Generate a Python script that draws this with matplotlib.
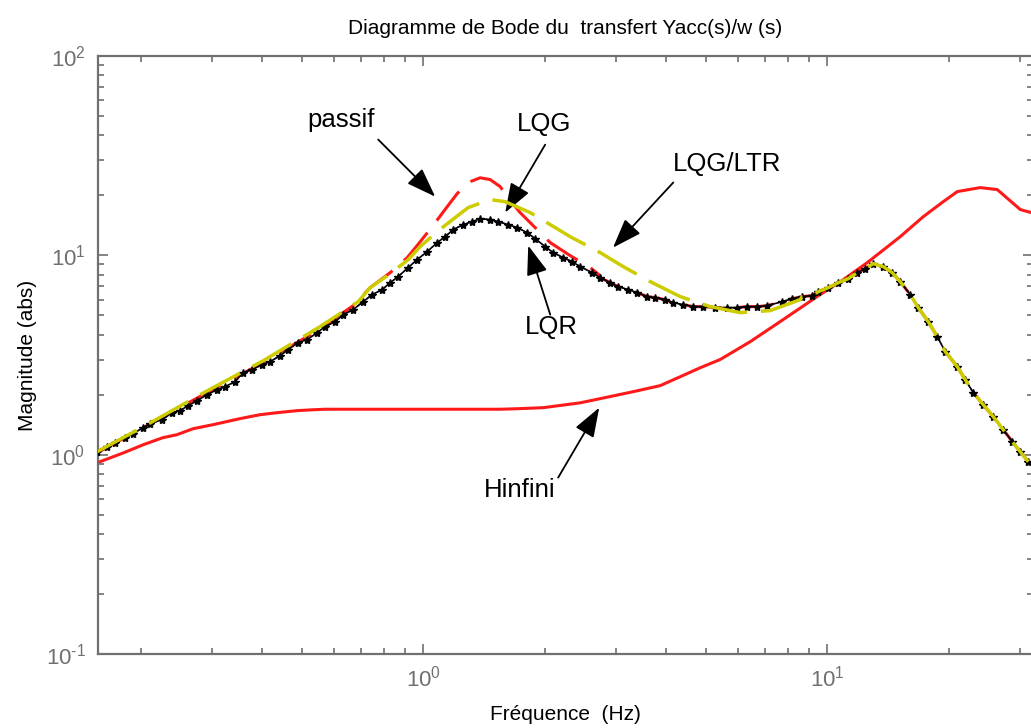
import matplotlib
matplotlib.use('Agg')
import matplotlib.pyplot as plt
import numpy as np
from matplotlib.ticker import NullFormatter, FuncFormatter

plt.rcParams['font.family'] = ['Liberation Sans', 'DejaVu Sans']
plt.rcParams['mathtext.fontset'] = 'custom'
plt.rcParams['mathtext.rm'] = 'Liberation Sans'

# données (Hz, amplitude)
f_lqg = [0.1560, 0.1651, 0.1728, 0.1830, 0.1915, 0.2027, 0.2110, 0.2259, 0.2391, 0.2503,
         0.2620, 0.2758, 0.2920, 0.3091, 0.3235, 0.3424, 0.3584, 0.3773, 0.3995, 0.4181,
         0.4426, 0.4632, 0.4905, 0.5163, 0.5466, 0.5721, 0.6057, 0.6339, 0.6711, 0.7103,
         0.7477, 0.7918, 0.8286, 0.8672, 0.9181, 0.9663, 1.0231, 1.0831, 1.1336, 1.1865,
         1.2561, 1.3222, 1.3838, 1.4648, 1.5330, 1.6232, 1.7087, 1.8088, 1.8930, 2.0045,
         2.0980, 2.2209, 2.3378, 2.4469, 2.6199, 2.7421, 2.9028, 3.0384, 3.2167, 3.3862,
         3.5850, 3.7521, 3.9719, 4.1571, 4.4011, 4.6594, 4.9329, 5.2832, 5.6561, 5.9880,
         6.3387, 6.7100, 7.1035, 7.7368, 8.1908, 8.6706, 9.1802, 9.4987, 10.058, 10.647,
         11.272, 11.865, 12.418, 12.997, 13.760, 14.484, 15.160, 16.048, 16.798, 17.783,
         18.721, 19.593, 20.980, 21.958, 22.982, 24.330, 25.757, 27.266, 28.707, 30.045,
         31.446]
mag_lqg = [1.035, 1.097, 1.149, 1.217, 1.274, 1.366, 1.431, 1.498, 1.624, 1.663,
           1.762, 1.866, 2.000, 2.119, 2.194, 2.324, 2.579, 2.670, 2.829, 2.929,
           3.139, 3.364, 3.647, 3.776, 4.094, 4.388, 4.649, 5.041, 5.340, 5.857,
           6.351, 6.729, 7.295, 7.820, 8.677, 9.515, 10.437, 11.577, 12.410, 13.457,
           14.256, 14.759, 15.279, 15.104, 14.759, 14.256, 13.772, 12.997, 12.127, 11.058,
           10.318, 9.739, 9.299, 8.777, 8.188, 7.728, 7.295, 6.966, 6.729, 6.500,
           6.206, 6.135, 5.995, 5.790, 5.658, 5.529, 5.529, 5.466, 5.466, 5.466,
           5.529, 5.529, 5.593, 5.857, 6.064, 6.206, 6.280, 6.577, 6.886, 7.295,
           7.639, 8.188, 8.576, 9.087, 8.777, 8.188, 7.379, 6.351, 5.466, 4.649,
           3.909, 3.287, 2.764, 2.378, 2.047, 1.782, 1.551, 1.335, 1.162, 1.035,
           0.922]

# LQR : confondu avec LQG sur la figure
f_lqr = f_lqg
mag_lqr = mag_lqg

# partie propre au passif (ensuite confondu avec LQG à partir de 2.9 Hz)
f_passif = [0.156, 0.203, 0.292, 0.402, 0.547, 0.671, 0.739, 0.829, 0.913, 0.966,
            1.053, 1.147, 1.214, 1.292, 1.384, 1.465, 1.551, 1.614, 1.738, 1.926,
            2.063, 2.311, 2.591, 2.742]
mag_passif = [1.02, 1.366, 2.05, 2.90, 4.19, 5.59, 6.88, 8.19, 9.73, 11.19,
              13.93, 17.55, 20.4, 23.2, 24.5, 23.99, 22.12, 19.7, 16.38, 13.3,
              11.58, 9.97, 8.68, 7.91]

# partie propre à LQG/LTR (ensuite confondu avec LQG à partir de 9.5 Hz)
f_ltr = [0.156, 0.203, 0.292, 0.402, 0.556, 0.691, 0.739, 0.829, 0.918, 0.983,
         1.083, 1.200, 1.292, 1.465, 1.595, 1.840, 2.063, 2.311, 2.742, 3.127,
         3.647, 4.326, 5.131, 6.090, 7.22, 8.57]
mag_ltr = [1.035, 1.38, 2.09, 2.96, 4.39, 5.86, 6.88, 8.09, 9.51, 11.06,
           13.15, 15.46, 17.35, 19.04, 18.59, 16.38, 14.26, 12.41, 10.32, 8.78,
           7.38, 6.21, 5.53, 5.16, 5.28, 5.99]

f_hinf = [0.1586, 0.181, 0.203, 0.227, 0.246, 0.2696, 0.302, 0.352, 0.395, 0.435,
          0.488, 0.534, 0.572, 1.551, 1.708, 1.982, 2.447, 2.742, 3.310, 3.861,
          4.326, 4.85, 5.43, 6.45, 7.78, 9.44, 10.96, 12.56, 15.16, 17.29,
          19.37, 20.98, 23.91, 26.35, 30.05, 32.0]
mag_hinf = [0.922, 1.02, 1.122, 1.217, 1.26, 1.35, 1.414, 1.516, 1.587, 1.624,
            1.663, 1.68, 1.69, 1.69, 1.70, 1.721, 1.82, 1.91, 2.07, 2.22,
            2.46, 2.73, 3.00, 3.69, 4.76, 6.21, 7.55, 9.19, 12.41, 15.64,
            18.59, 20.88, 21.87, 21.37, 16.96, 16.38]

# étiquettes : (texte, position du texte, pointe de la flèche, départ de la flèche)
labels = [
    ('passif', (0.627, 48.0), (1.071, 19.7), (0.774, 38.1)),
    ('LQG', (1.993, 45.8), (1.596, 16.38), (2.004, 35.9)),
    ('LQG/LTR', (5.656, 28.8), (2.95, 10.93), (4.16, 23.2)),
    ('LQR', (2.074, 4.39), (1.82, 11.19), (2.063, 5.04)),
    ('Hinfini', (1.738, 0.667), (2.727, 1.721), (2.158, 0.767)),
]

# raccord des branches communes
i_p = next(i for i, f in enumerate(f_lqg) if f > f_passif[-1])
i_l = next(i for i, f in enumerate(f_lqg) if f > f_ltr[-1])
f_passif_all = f_passif + f_lqg[i_p:]
mag_passif_all = mag_passif + mag_lqg[i_p:]
f_ltr_all = f_ltr + f_lqg[i_l:]
mag_ltr_all = mag_ltr + mag_lqg[i_l:]


def puiss10(v, pos):
    e = int(round(np.log10(v)))
    if e < 0:
        return r'$\mathdefault{10^{\text{-}%d}}$' % (-e)
    return r'$\mathdefault{10^{%d}}$' % e


fig = plt.figure(figsize=(10.31, 7.28), dpi=100)
ax = fig.add_axes([98 / 1031, 1 - 654 / 728, 935 / 1031, 598 / 728])

gris = '#707070'
ax.plot(f_passif_all, mag_passif_all, color='#ff1a1a', lw=2.2, dashes=(12, 5), zorder=2)
ax.plot(f_hinf, mag_hinf, color='#ff1a1a', lw=2.2, zorder=3)
ax.plot(f_lqr, mag_lqr, color='#1f1fff', lw=1.0, dashes=(4, 2, 1, 2), zorder=4)
ax.plot(f_lqg, mag_lqg, color='black', lw=1.2, marker='*', ms=6, zorder=5)
ax.plot(f_ltr_all, mag_ltr_all, color='#cccc00', lw=2.5, dashes=(13, 4), zorder=6)

for txt, xy_txt, tip, tail in labels:
    ax.text(xy_txt[0], xy_txt[1], txt, fontsize=18.5, ha='center', va='center')
    ax.annotate('', xy=tip, xytext=tail,
                arrowprops=dict(arrowstyle='-|>,head_length=0.7,head_width=0.25',
                                mutation_scale=26, lw=1.3, color='black',
                                shrinkA=0, shrinkB=0))

ax.set_xscale('log')
ax.set_yscale('log')
ax.set_xlim(0.1568, 32.3)
ax.set_ylim(0.1, 100)

for s in ax.spines.values():
    s.set_color(gris)
    s.set_linewidth(1.6)
ax.tick_params(which='both', direction='in', top=True, right=True,
               colors=gris, labelcolor=gris, labelsize=16, width=1.2)
ax.tick_params(which='major', length=7, pad=8)
ax.tick_params(which='minor', length=4)
ax.xaxis.set_major_formatter(FuncFormatter(puiss10))
ax.yaxis.set_major_formatter(FuncFormatter(puiss10))
ax.xaxis.set_minor_formatter(NullFormatter())
ax.yaxis.set_minor_formatter(NullFormatter())
ax.tick_params(axis='y', pad=9)

ax.set_title('Diagramme de Bode du  transfert Yacc(s)/w (s)', fontsize=15, pad=16)
ax.set_xlabel('Fréquence  (Hz)', fontsize=15, labelpad=10)
ax.set_ylabel('Magnitude (abs)', fontsize=15, labelpad=6)

fig.savefig('out.png', dpi=100)
